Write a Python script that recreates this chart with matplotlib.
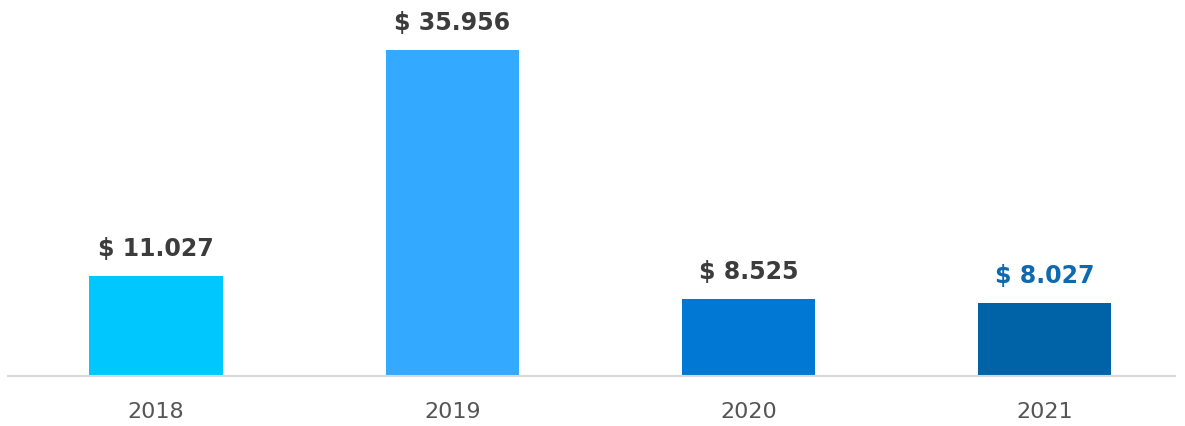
import numpy as np
import matplotlib.pyplot as plt

years = ['2018', '2019', '2020', '2021']
values = [11.027, 35.956, 8.525, 8.027]
labels = ['$ 11.027', '$ 35.956', '$ 8.525', '$ 8.027']
colors = ['#00C8FF', '#33AAFF', '#0078D4', '#0063A8']
label_colors = ['#3C3C3C', '#3C3C3C', '#3C3C3C', '#0E6AB0']

plt.rcParams['font.family'] = ['DejaVu Sans']

fig = plt.figure(figsize=(11.85, 4.26), dpi=100)
ax = fig.add_axes([8 / 1185, 50 / 426, 1167 / 1185, 0.969 - 50 / 426])

x = np.arange(len(years))
ax.bar(x, values, width=0.45, color=colors)

for xi, v, lab, c in zip(x, values, labels, label_colors):
    ax.annotate(lab, (xi, v), xytext=(0, 14.4), textcoords='offset points',
                ha='center', va='baseline', fontsize=17, fontweight='bold', color=c)

ax.set_xlim(-0.5, 3.44)
ax.set_ylim(0, 40)
ax.set_xticks(x)
ax.set_xticklabels(years, fontsize=16, color='#555555')
ax.tick_params(axis='x', length=0, pad=18.5)
ax.set_yticks([])
for s in ['top', 'left', 'right']:
    ax.spines[s].set_visible(False)
ax.spines['bottom'].set_color('#D9D9D9')
ax.spines['bottom'].set_linewidth(1.5)

fig.savefig('out.png', dpi=100)
